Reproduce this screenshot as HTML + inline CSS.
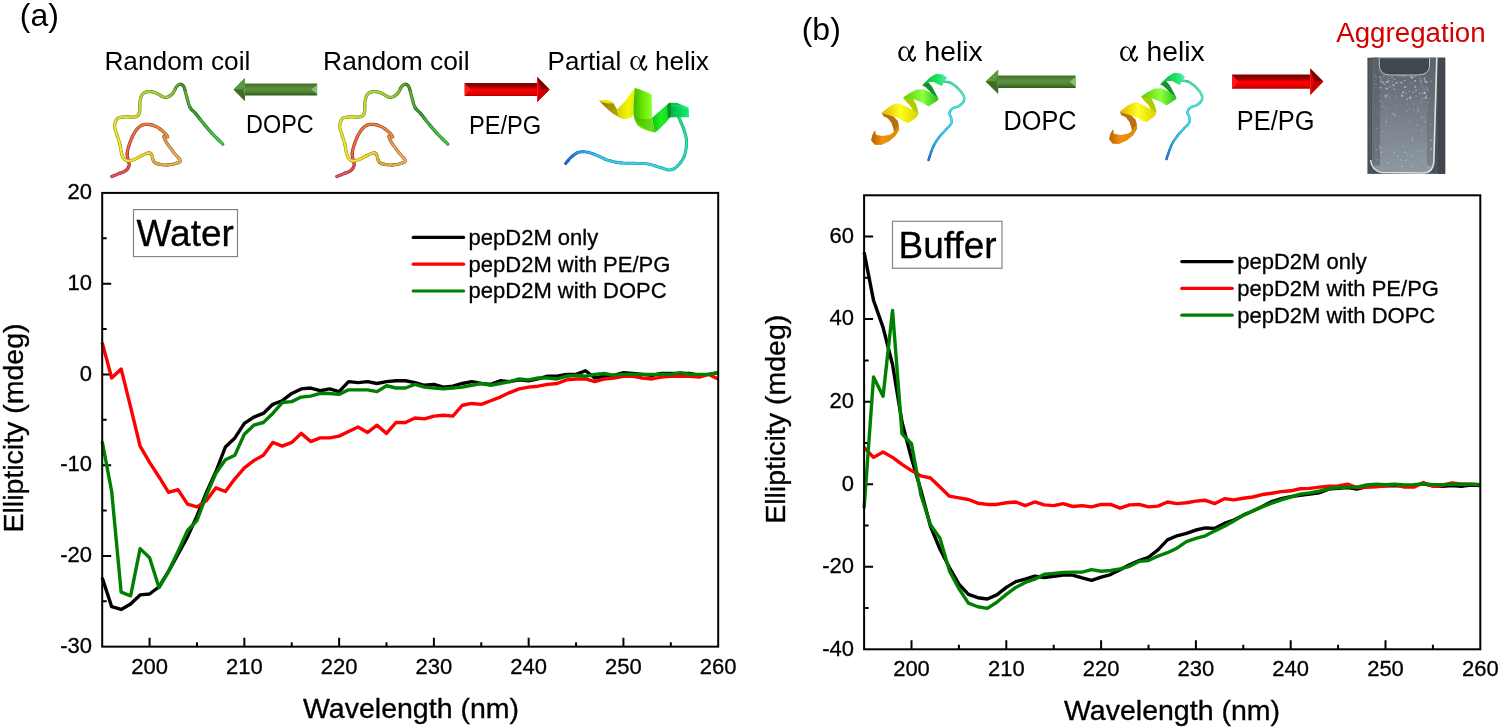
<!DOCTYPE html>
<html><head><meta charset="utf-8"><title>CD spectra pepD2M</title>
<style>
html,body{margin:0;padding:0;background:#fff;}
body{width:1500px;height:728px;overflow:hidden;position:relative;font-family:'Liberation Sans', sans-serif;}
svg{position:absolute;left:0;top:0;filter:blur(0.4px);}
</style></head><body>
<svg width="1500" height="728" viewBox="0 0 1500 728">
<rect width="1500" height="728" fill="#fff"/>
<!-- CHART A -->
<path d="M149.58,646.65V637.65M244.35,646.65V637.65M339.12,646.65V637.65M433.89,646.65V637.65M528.66,646.65V637.65M623.43,646.65V637.65M196.97,646.65V642.15M291.74,646.65V642.15M386.51,646.65V642.15M481.28,646.65V642.15M576.05,646.65V642.15M670.82,646.65V642.15M102.20,555.90H111.20M102.20,465.15H111.20M102.20,374.40H111.20M102.20,283.65H111.20M102.20,601.27H106.70M102.20,510.52H106.70M102.20,419.77H106.70M102.20,329.02H106.70M102.20,238.28H106.70" stroke="#000" stroke-width="2" fill="none"/>
<polyline points="102.20,577.68 111.68,606.72 121.15,609.44 130.63,604.00 140.11,594.92 149.58,594.01 159.06,586.75 168.54,571.33 178.02,554.08 187.49,536.84 196.97,515.97 206.45,492.38 215.92,471.50 225.40,447.00 234.88,437.92 244.35,423.40 253.83,417.05 263.31,413.42 272.78,404.35 282.26,400.72 291.74,393.46 301.22,388.92 310.69,388.01 320.17,390.74 329.65,388.92 339.12,391.64 348.60,381.66 358.08,382.57 367.55,381.66 377.03,383.48 386.51,381.66 395.98,380.75 405.46,380.75 414.94,382.57 424.42,385.29 433.89,384.38 443.37,387.11 452.85,386.20 462.32,383.48 471.80,381.66 481.28,383.48 490.75,384.38 500.23,380.75 509.71,381.66 519.18,379.85 528.66,380.75 538.14,378.94 547.62,376.21 557.09,376.21 566.57,374.40 576.05,374.40 585.52,370.77 595.00,378.03 604.48,376.21 613.95,375.31 623.43,372.59 632.91,373.49 642.38,374.40 651.86,375.31 661.34,373.49 670.82,373.49 680.29,373.49 689.77,373.49 699.25,375.31 708.72,374.40 718.20,372.59" fill="none" stroke="#000000" stroke-width="3.4" stroke-linejoin="round" stroke-linecap="butt"/>
<polyline points="102.20,342.64 111.68,378.03 121.15,368.95 130.63,407.07 140.11,446.09 149.58,462.43 159.06,476.95 168.54,492.38 178.02,489.65 187.49,504.17 196.97,506.89 206.45,500.54 215.92,487.84 225.40,491.47 234.88,478.76 244.35,467.87 253.83,460.61 263.31,455.17 272.78,442.46 282.26,446.09 291.74,442.46 301.22,433.39 310.69,441.55 320.17,437.92 329.65,437.92 339.12,436.11 348.60,431.57 358.08,427.03 367.55,432.48 377.03,425.22 386.51,433.39 395.98,422.50 405.46,422.50 414.94,417.96 424.42,418.87 433.89,416.14 443.37,415.24 452.85,416.14 462.32,405.25 471.80,403.44 481.28,404.35 490.75,400.72 500.23,397.09 509.71,392.55 519.18,388.92 528.66,387.11 538.14,386.20 547.62,384.38 557.09,383.48 566.57,379.85 576.05,378.94 585.52,378.94 595.00,381.66 604.48,378.94 613.95,378.03 623.43,376.21 632.91,376.21 642.38,378.03 651.86,378.94 661.34,377.12 670.82,376.21 680.29,376.21 689.77,376.21 699.25,377.12 708.72,374.40 718.20,378.94" fill="none" stroke="#ff0000" stroke-width="3.4" stroke-linejoin="round" stroke-linecap="butt"/>
<polyline points="102.20,441.55 111.68,491.47 121.15,592.20 130.63,595.83 140.11,548.64 149.58,557.72 159.06,587.66 168.54,571.33 178.02,551.36 187.49,530.49 196.97,520.51 206.45,495.10 215.92,473.32 225.40,459.70 234.88,455.17 244.35,434.29 253.83,425.22 263.31,422.50 272.78,413.42 282.26,402.53 291.74,401.62 301.22,397.09 310.69,396.18 320.17,393.46 329.65,393.46 339.12,394.37 348.60,389.83 358.08,389.83 367.55,389.83 377.03,391.64 386.51,385.74 395.98,388.01 405.46,388.01 414.94,384.38 424.42,387.11 433.89,388.01 443.37,388.92 452.85,388.01 462.32,387.11 471.80,385.29 481.28,383.48 490.75,385.29 500.23,383.48 509.71,381.66 519.18,378.94 528.66,379.85 538.14,378.03 547.62,378.03 557.09,378.94 566.57,376.21 576.05,375.31 585.52,376.21 595.00,374.40 604.48,373.49 613.95,375.31 623.43,374.40 632.91,374.40 642.38,374.40 651.86,374.40 661.34,374.40 670.82,374.40 680.29,372.59 689.77,374.40 699.25,374.40 708.72,374.40 718.20,372.59" fill="none" stroke="#008000" stroke-width="3.4" stroke-linejoin="round" stroke-linecap="butt"/>
<rect x="102.20" y="192.90" width="616.00" height="453.75" fill="none" stroke="#000" stroke-width="2"/>
<g font-family="'Liberation Sans', sans-serif" font-size="22" fill="#000" stroke="#000" stroke-width="0.3"><text x="149.58" y="674.30" text-anchor="middle">200</text><text x="244.35" y="674.30" text-anchor="middle">210</text><text x="339.12" y="674.30" text-anchor="middle">220</text><text x="433.89" y="674.30" text-anchor="middle">230</text><text x="528.66" y="674.30" text-anchor="middle">240</text><text x="623.43" y="674.30" text-anchor="middle">250</text><text x="718.20" y="674.30" text-anchor="middle">260</text><text x="92.00" y="652.95" text-anchor="end">-30</text><text x="92.00" y="562.20" text-anchor="end">-20</text><text x="92.00" y="471.45" text-anchor="end">-10</text><text x="92.00" y="380.70" text-anchor="end">0</text><text x="92.00" y="289.95" text-anchor="end">10</text><text x="92.00" y="199.20" text-anchor="end">20</text></g>
<rect x="133.5" y="209.6" width="104" height="47" fill="none" stroke="#858585" stroke-width="1.2"/>
<text x="136.5" y="246" font-family="'Liberation Sans', sans-serif" font-size="37" stroke="#000" stroke-width="0.3">Water</text>
<line x1="413.2" y1="237.4" x2="463.6" y2="237.4" stroke="#000000" stroke-width="3.2" stroke-linecap="round"/>
<text x="468.6" y="244.7" font-family="'Liberation Sans', sans-serif" font-size="22" stroke="#000" stroke-width="0.3">pepD2M only</text>
<line x1="413.2" y1="264.2" x2="463.6" y2="264.2" stroke="#ff0000" stroke-width="3.2" stroke-linecap="round"/>
<text x="468.6" y="271.5" font-family="'Liberation Sans', sans-serif" font-size="22" stroke="#000" stroke-width="0.3">pepD2M with PE/PG</text>
<line x1="413.2" y1="291.0" x2="463.6" y2="291.0" stroke="#008000" stroke-width="3.2" stroke-linecap="round"/>
<text x="468.6" y="298.3" font-family="'Liberation Sans', sans-serif" font-size="22" stroke="#000" stroke-width="0.3">pepD2M with DOPC</text>
<text x="411" y="718.2" font-family="'Liberation Sans', sans-serif" font-size="28.5" text-anchor="middle" stroke="#000" stroke-width="0.35">Wavelength (nm)</text>
<text transform="translate(22.7,428.0) rotate(-90)" font-family="'Liberation Sans', sans-serif" font-size="28.5" text-anchor="middle" stroke="#000" stroke-width="0.35">Ellipticity (mdeg)</text>
<!-- CHART B -->
<path d="M911.50,649.30V640.30M1006.30,649.30V640.30M1101.10,649.30V640.30M1195.90,649.30V640.30M1290.70,649.30V640.30M1385.50,649.30V640.30M958.90,649.30V644.80M1053.70,649.30V644.80M1148.50,649.30V644.80M1243.30,649.30V644.80M1338.10,649.30V644.80M1432.90,649.30V644.80M864.10,566.75H873.10M864.10,484.21H873.10M864.10,401.66H873.10M864.10,319.12H873.10M864.10,236.57H873.10M864.10,608.03H868.60M864.10,525.48H868.60M864.10,442.94H868.60M864.10,360.39H868.60M864.10,277.85H868.60" stroke="#000" stroke-width="2" fill="none"/>
<polyline points="864.10,252.26 873.58,300.55 883.06,327.37 892.54,364.52 902.02,422.30 911.50,458.21 920.98,490.40 930.46,526.31 939.94,549.01 949.42,567.58 958.90,584.09 968.38,594.41 977.86,597.71 987.34,598.95 996.82,594.82 1006.30,587.39 1015.78,581.61 1025.26,579.14 1034.74,576.25 1044.22,577.49 1053.70,576.25 1063.18,575.01 1072.66,575.01 1082.14,577.90 1091.62,580.37 1101.10,577.07 1110.58,574.60 1120.06,569.64 1129.54,564.69 1139.02,560.56 1148.50,557.26 1157.98,549.83 1167.46,539.93 1176.94,535.80 1186.42,533.32 1195.90,530.02 1205.38,527.96 1214.86,528.37 1224.34,523.42 1233.82,520.12 1243.30,515.16 1252.78,511.04 1262.26,506.50 1271.74,501.54 1281.22,498.65 1290.70,496.59 1300.18,495.35 1309.66,494.11 1319.14,492.88 1328.62,489.16 1338.10,488.34 1347.58,487.51 1357.06,489.16 1366.54,486.69 1376.02,486.27 1385.50,485.86 1394.98,485.45 1404.46,485.86 1413.94,485.45 1423.42,483.80 1432.90,485.86 1442.38,486.27 1451.86,485.45 1461.34,486.27 1470.82,485.03 1480.30,485.45" fill="none" stroke="#000000" stroke-width="3.4" stroke-linejoin="round" stroke-linecap="butt"/>
<polyline points="864.10,447.48 873.58,457.38 883.06,452.02 892.54,457.38 902.02,464.40 911.50,470.59 920.98,475.95 930.46,478.02 939.94,487.10 949.42,496.18 958.90,497.83 968.38,499.48 977.86,503.19 987.34,504.43 996.82,504.43 1006.30,502.78 1015.78,501.96 1025.26,505.67 1034.74,501.96 1044.22,504.85 1053.70,505.67 1063.18,503.61 1072.66,506.50 1082.14,505.67 1091.62,506.91 1101.10,504.43 1110.58,504.43 1120.06,508.15 1129.54,504.85 1139.02,504.43 1148.50,506.91 1157.98,506.08 1167.46,501.96 1176.94,503.61 1186.42,502.78 1195.90,501.13 1205.38,500.31 1214.86,503.61 1224.34,498.65 1233.82,499.89 1243.30,498.24 1252.78,497.00 1262.26,494.53 1271.74,493.29 1281.22,491.64 1290.70,490.81 1300.18,488.75 1309.66,488.34 1319.14,487.10 1328.62,486.27 1338.10,485.86 1347.58,484.21 1357.06,487.51 1366.54,487.10 1376.02,486.69 1385.50,485.86 1394.98,484.62 1404.46,487.10 1413.94,487.10 1423.42,482.56 1432.90,486.27 1442.38,485.45 1451.86,482.97 1461.34,484.21 1470.82,484.21 1480.30,484.62" fill="none" stroke="#ff0000" stroke-width="3.4" stroke-linejoin="round" stroke-linecap="butt"/>
<polyline points="864.10,508.15 873.58,376.90 883.06,396.30 892.54,310.45 902.02,433.86 911.50,443.76 920.98,495.35 930.46,524.66 939.94,538.28 949.42,570.88 958.90,588.63 968.38,603.07 977.86,606.79 987.34,608.44 996.82,602.25 1006.30,594.41 1015.78,587.39 1025.26,582.44 1034.74,579.14 1044.22,574.18 1053.70,573.36 1063.18,572.53 1072.66,572.12 1082.14,572.12 1091.62,569.64 1101.10,571.29 1110.58,570.47 1120.06,568.82 1129.54,566.34 1139.02,561.39 1148.50,560.56 1157.98,556.02 1167.46,552.72 1176.94,548.18 1186.42,541.58 1195.90,538.28 1205.38,535.80 1214.86,530.85 1224.34,526.31 1233.82,520.94 1243.30,515.16 1252.78,511.04 1262.26,506.91 1271.74,503.19 1281.22,499.89 1290.70,497.00 1300.18,494.11 1309.66,492.88 1319.14,491.23 1328.62,488.75 1338.10,487.51 1347.58,487.10 1357.06,487.10 1366.54,485.03 1376.02,484.21 1385.50,484.62 1394.98,484.21 1404.46,485.03 1413.94,484.62 1423.42,483.80 1432.90,484.62 1442.38,484.62 1451.86,484.21 1461.34,484.21 1470.82,484.21 1480.30,484.62" fill="none" stroke="#008000" stroke-width="3.4" stroke-linejoin="round" stroke-linecap="butt"/>
<rect x="864.10" y="195.30" width="616.20" height="454.00" fill="none" stroke="#000" stroke-width="2"/>
<g font-family="'Liberation Sans', sans-serif" font-size="22" fill="#000" stroke="#000" stroke-width="0.3"><text x="911.50" y="676.30" text-anchor="middle">200</text><text x="1006.30" y="676.30" text-anchor="middle">210</text><text x="1101.10" y="676.30" text-anchor="middle">220</text><text x="1195.90" y="676.30" text-anchor="middle">230</text><text x="1290.70" y="676.30" text-anchor="middle">240</text><text x="1385.50" y="676.30" text-anchor="middle">250</text><text x="1480.30" y="676.30" text-anchor="middle">260</text><text x="854.00" y="655.60" text-anchor="end">-40</text><text x="854.00" y="573.05" text-anchor="end">-20</text><text x="854.00" y="490.51" text-anchor="end">0</text><text x="854.00" y="407.96" text-anchor="end">20</text><text x="854.00" y="325.42" text-anchor="end">40</text><text x="854.00" y="242.87" text-anchor="end">60</text></g>
<rect x="892.5" y="221.3" width="109.5" height="47" fill="none" stroke="#858585" stroke-width="1.2"/>
<text x="898.5" y="257.6" font-family="'Liberation Sans', sans-serif" font-size="37" stroke="#000" stroke-width="0.3">Buffer</text>
<line x1="1181.8" y1="261.6" x2="1232.2" y2="261.6" stroke="#000000" stroke-width="3.2" stroke-linecap="round"/>
<text x="1237.2" y="268.9" font-family="'Liberation Sans', sans-serif" font-size="22" stroke="#000" stroke-width="0.3">pepD2M only</text>
<line x1="1181.8" y1="288.4" x2="1232.2" y2="288.4" stroke="#ff0000" stroke-width="3.2" stroke-linecap="round"/>
<text x="1237.2" y="295.7" font-family="'Liberation Sans', sans-serif" font-size="22" stroke="#000" stroke-width="0.3">pepD2M with PE/PG</text>
<line x1="1181.8" y1="315.2" x2="1232.2" y2="315.2" stroke="#008000" stroke-width="3.2" stroke-linecap="round"/>
<text x="1237.2" y="322.5" font-family="'Liberation Sans', sans-serif" font-size="22" stroke="#000" stroke-width="0.3">pepD2M with DOPC</text>
<text x="1172" y="719.8" font-family="'Liberation Sans', sans-serif" font-size="28.5" text-anchor="middle" stroke="#000" stroke-width="0.35">Wavelength (nm)</text>
<text transform="translate(785,419.3) rotate(-90)" font-family="'Liberation Sans', sans-serif" font-size="28.5" text-anchor="middle" stroke="#000" stroke-width="0.35">Ellipticity (mdeg)</text>
<!-- TOP -->
<defs>
<linearGradient id="gShaft" x1="0" y1="0" x2="0" y2="1">
 <stop offset="0" stop-color="#3f6d24"/><stop offset="0.18" stop-color="#4b7c2e"/>
 <stop offset="0.45" stop-color="#5a9140"/><stop offset="0.7" stop-color="#4f8435"/>
 <stop offset="0.88" stop-color="#3c6822"/><stop offset="1" stop-color="#335c1c"/>
</linearGradient>
<linearGradient id="rShaft" x1="0" y1="0" x2="0" y2="1">
 <stop offset="0" stop-color="#7a0000"/><stop offset="0.3" stop-color="#990000"/>
 <stop offset="0.5" stop-color="#ff0000"/><stop offset="0.72" stop-color="#f00000"/>
 <stop offset="0.9" stop-color="#cc0000"/><stop offset="1" stop-color="#b00000"/>
</linearGradient>
<linearGradient id="cuvIn" x1="0" y1="0" x2="0" y2="1">
 <stop offset="0" stop-color="#5c636b"/><stop offset="0.3" stop-color="#6c747d"/><stop offset="0.65" stop-color="#7f8891"/>
 <stop offset="1" stop-color="#8e98a1"/>
</linearGradient>
</defs>
<text transform="translate(19.80,25.70) scale(1.000,1)" font-family="'Liberation Sans', sans-serif" font-size="32" fill="#000">(a)</text>
<text transform="translate(801.70,40.10) scale(1.000,1)" font-family="'Liberation Sans', sans-serif" font-size="32" fill="#000">(b)</text>
<text transform="translate(104.40,70.10) scale(1.010,1)" font-family="'Liberation Sans', sans-serif" font-size="26" fill="#000">Random coil</text>
<text transform="translate(323.10,70.10) scale(1.014,1)" font-family="'Liberation Sans', sans-serif" font-size="26" fill="#000">Random coil</text>
<text transform="translate(547.60,70.00) scale(1.000,1)" font-family="'Liberation Sans', sans-serif" font-size="26" fill="#000">Partial</text>
<text transform="translate(655.00,70.00) scale(1.010,1)" font-family="'Liberation Sans', sans-serif" font-size="26" fill="#000">helix</text>
<text transform="translate(246.10,133.00) scale(0.901,1)" font-family="'Liberation Sans', sans-serif" font-size="26" fill="#000">DOPC</text>
<text transform="translate(468.90,134.40) scale(0.910,1)" font-family="'Liberation Sans', sans-serif" font-size="26" fill="#000">PE/PG</text>
<text transform="translate(924.60,60.80) scale(1.010,1)" font-family="'Liberation Sans', sans-serif" font-size="28" fill="#000">helix</text>
<text transform="translate(1146.60,60.80) scale(1.010,1)" font-family="'Liberation Sans', sans-serif" font-size="28" fill="#000">helix</text>
<text transform="translate(1003.60,130.10) scale(0.902,1)" font-family="'Liberation Sans', sans-serif" font-size="28" fill="#000">DOPC</text>
<text transform="translate(1236.80,129.50) scale(0.907,1)" font-family="'Liberation Sans', sans-serif" font-size="28" fill="#000">PE/PG</text>
<text transform="translate(1336.20,42.20) scale(0.990,1)" font-family="'Liberation Sans', sans-serif" font-size="28" fill="#d40000">Aggregation</text>
<defs><g id="alpha"><path fill-rule="evenodd" d="M5.9,0.3 A5.6,7.4 0 1 0 5.9,15.1 A5.6,7.4 0 1 0 5.9,0.3 Z M6.5,1.5 A3.8,6.2 0 1 1 6.5,13.9 A3.8,6.2 0 1 1 6.5,1.5 Z"/>
<path d="M14.9,1.1 L11.6,7.6 Q11.4,12.6 14.4,14.6 Q16,15.4 17.3,11.3" fill="none" stroke="#000" stroke-width="1.9" stroke-linecap="round"/>
<path d="M14.9,0.8 L12.6,6" fill="none" stroke="#000" stroke-width="2.6" stroke-linecap="round"/></g></defs>
<use href="#alpha" transform="translate(898,46)"/>
<use href="#alpha" transform="translate(1119.8,46)"/>
<use href="#alpha" transform="translate(630,55.6) scale(0.955,0.96)"/>
<polygon points="244.8,83.6 317.1,83.6 317.1,95.5 244.8,95.5" fill="url(#gShaft)"/>
<polygon points="233.6,89.4 244.8,78.1 244.8,101.0" fill="#4f8334"/>
<polygon points="233.6,89.4 244.8,78.1 244.8,83.6 241.8,89.4" fill="#5d9a40"/>
<polygon points="233.6,89.4 241.8,89.4 244.8,95.5 244.8,101.0" fill="#3e6b25"/>
<polygon points="311.1,89.55 317.1,85.1 317.1,94.0" fill="#8cc06c"/>
<polygon points="464.7,83.1 537.1,83.1 537.1,95.9 464.7,95.9" fill="url(#rShaft)"/>
<polygon points="537.1,76.8 549.6,89.4 537.1,102.0" fill="#e80000"/>
<polygon points="537.1,76.8 549.6,89.4 541.1,89.4" fill="#7a0000"/>
<polygon points="537.1,102.0 549.6,89.4 541.1,89.4" fill="#c80000"/>
<polygon points="464.7,83.1 470.7,89.5 464.7,95.9" fill="#ff1a1a"/>
<polygon points="998.1,75.4 1075.6,75.4 1075.6,88.0 998.1,88.0" fill="url(#gShaft)"/>
<polygon points="985.7,81.6 998.1,69.7 998.1,93.8" fill="#4f8334"/>
<polygon points="985.7,81.6 998.1,69.7 998.1,75.4 995.1,81.6" fill="#5d9a40"/>
<polygon points="985.7,81.6 995.1,81.6 998.1,88.0 998.1,93.8" fill="#3e6b25"/>
<polygon points="1069.6,81.7 1075.6,76.9 1075.6,86.5" fill="#8cc06c"/>
<polygon points="1232.1,74.5 1310.1,74.5 1310.1,88.8 1232.1,88.8" fill="url(#rShaft)"/>
<polygon points="1310.1,68.2 1323.3,81.6 1310.1,94.9" fill="#e80000"/>
<polygon points="1310.1,68.2 1323.3,81.6 1314.1,81.6" fill="#7a0000"/>
<polygon points="1310.1,94.9 1323.3,81.6 1314.1,81.6" fill="#c80000"/>
<polygon points="1232.1,74.5 1238.1,81.65 1232.1,88.8" fill="#ff1a1a"/>
<defs><g id="coil" fill="none" stroke-linecap="round" stroke-linejoin="round">
<path d="M80.0,690.0 L85.5,687.8 L93.1,684.8 L102.2,681.2 L111.9,677.4 L121.4,673.6 L130.0,670.0 L138.0,666.8" stroke="#942f38" stroke-width="22.0"/>
<path d="M138.0,666.8 L146.2,663.9 L154.2,660.9 L161.8,657.8 L168.8,654.2 L175.0,650.0 L180.5,645.2 L185.4,639.8" stroke="#942d34" stroke-width="22.0"/>
<path d="M185.4,639.8 L189.8,634.1 L193.4,628.0 L196.2,621.6 L198.0,615.0 L198.4,608.0 L197.5,600.6 L195.8,592.8 L193.6,585.0" stroke="#942a2f" stroke-width="22.0"/>
<path d="M193.6,585.0 L191.5,577.3 L190.0,570.0 L188.8,563.3 L187.4,557.0 L186.1,550.9 L185.1,544.6 L184.6,537.8 L185.0,530.0" stroke="#96302b" stroke-width="22.0"/>
<path d="M185.0,530.0 L186.2,521.3 L188.0,511.9 L190.3,501.9 L193.1,491.5 L196.4,480.8 L200.0,470.0" stroke="#983727" stroke-width="22.0"/>
<path d="M200.0,470.0 L204.0,458.7 L208.5,446.7 L213.4,434.4 L218.7,422.2" stroke="#993c24" stroke-width="22.0"/>
<path d="M218.7,422.2 L224.2,410.6 L230.0,400.0 L236.0,390.1 L242.2,380.6 L248.8,371.6" stroke="#9a4123" stroke-width="22.0"/>
<path d="M248.8,371.6 L255.6,363.3 L262.6,356.1 L270.0,350.0 L277.6,345.1 L285.6,341.3 L293.8,338.4" stroke="#9b4521" stroke-width="22.0"/>
<path d="M293.8,338.4 L302.2,336.5 L311.0,335.4 L320.0,335.0 L329.5,335.5 L339.6,337.0 L350.0,339.4" stroke="#9c4a20" stroke-width="22.0"/>
<path d="M350.0,339.4 L360.4,342.4 L370.5,346.0 L380.0,350.0 L389.1,354.7 L398.1,360.2 L406.9,366.2" stroke="#9b5022" stroke-width="22.0"/>
<path d="M406.9,366.2 L415.2,372.6 L422.9,378.9 L430.0,385.0 L436.8,391.3 L443.5,398.0" stroke="#9a5523" stroke-width="22.0"/>
<path d="M443.5,398.0 L449.7,404.8 L454.8,411.1 L458.4,416.3 L460.0,420.0 L458.6,421.4 L454.3,420.6 L448.4,418.9 L442.4,417.1 L437.5,416.5 L435.0,418.0" stroke="#995a25" stroke-width="22.0"/>
<path d="M80.0,690.0 L85.5,687.8 L93.1,684.8 L102.2,681.2 L111.9,677.4 L121.4,673.6 L130.0,670.0 L138.0,666.8" stroke="#e04855" stroke-width="14.0"/>
<path d="M138.0,666.8 L146.2,663.9 L154.2,660.9 L161.8,657.8 L168.8,654.2 L175.0,650.0 L180.5,645.2 L185.4,639.8" stroke="#e0444e" stroke-width="14.0"/>
<path d="M185.4,639.8 L189.8,634.1 L193.4,628.0 L196.2,621.6 L198.0,615.0 L198.4,608.0 L197.5,600.6 L195.8,592.8 L193.6,585.0" stroke="#e04048" stroke-width="14.0"/>
<path d="M193.6,585.0 L191.5,577.3 L190.0,570.0 L188.8,563.3 L187.4,557.0 L186.1,550.9 L185.1,544.6 L184.6,537.8 L185.0,530.0" stroke="#e34942" stroke-width="14.0"/>
<path d="M185.0,530.0 L186.2,521.3 L188.0,511.9 L190.3,501.9 L193.1,491.5 L196.4,480.8 L200.0,470.0" stroke="#e6533b" stroke-width="14.0"/>
<path d="M200.0,470.0 L204.0,458.7 L208.5,446.7 L213.4,434.4 L218.7,422.2" stroke="#e95b37" stroke-width="14.0"/>
<path d="M218.7,422.2 L224.2,410.6 L230.0,400.0 L236.0,390.1 L242.2,380.6 L248.8,371.6" stroke="#ea6235" stroke-width="14.0"/>
<path d="M248.8,371.6 L255.6,363.3 L262.6,356.1 L270.0,350.0 L277.6,345.1 L285.6,341.3 L293.8,338.4" stroke="#eb6932" stroke-width="14.0"/>
<path d="M293.8,338.4 L302.2,336.5 L311.0,335.4 L320.0,335.0 L329.5,335.5 L339.6,337.0 L350.0,339.4" stroke="#ec7030" stroke-width="14.0"/>
<path d="M350.0,339.4 L360.4,342.4 L370.5,346.0 L380.0,350.0 L389.1,354.7 L398.1,360.2 L406.9,366.2" stroke="#eb7933" stroke-width="14.0"/>
<path d="M406.9,366.2 L415.2,372.6 L422.9,378.9 L430.0,385.0 L436.8,391.3 L443.5,398.0" stroke="#e98136" stroke-width="14.0"/>
<path d="M443.5,398.0 L449.7,404.8 L454.8,411.1 L458.4,416.3 L460.0,420.0 L458.6,421.4 L454.3,420.6 L448.4,418.9 L442.4,417.1 L437.5,416.5 L435.0,418.0" stroke="#e88838" stroke-width="14.0"/>
<path d="M80.0,690.0 L85.5,687.8 L93.1,684.8 L102.2,681.2 L111.9,677.4 L121.4,673.6 L130.0,670.0 L138.0,666.8" stroke="#e7707a" stroke-width="5.0"/>
<path d="M138.0,666.8 L146.2,663.9 L154.2,660.9 L161.8,657.8 L168.8,654.2 L175.0,650.0 L180.5,645.2 L185.4,639.8" stroke="#e76d75" stroke-width="5.0"/>
<path d="M185.4,639.8 L189.8,634.1 L193.4,628.0 L196.2,621.6 L198.0,615.0 L198.4,608.0 L197.5,600.6 L195.8,592.8 L193.6,585.0" stroke="#e76a70" stroke-width="5.0"/>
<path d="M193.6,585.0 L191.5,577.3 L190.0,570.0 L188.8,563.3 L187.4,557.0 L186.1,550.9 L185.1,544.6 L184.6,537.8 L185.0,530.0" stroke="#e9716b" stroke-width="5.0"/>
<path d="M185.0,530.0 L186.2,521.3 L188.0,511.9 L190.3,501.9 L193.1,491.5 L196.4,480.8 L200.0,470.0" stroke="#ec7966" stroke-width="5.0"/>
<path d="M200.0,470.0 L204.0,458.7 L208.5,446.7 L213.4,434.4 L218.7,422.2" stroke="#ed7f63" stroke-width="5.0"/>
<path d="M218.7,422.2 L224.2,410.6 L230.0,400.0 L236.0,390.1 L242.2,380.6 L248.8,371.6" stroke="#ee8561" stroke-width="5.0"/>
<path d="M248.8,371.6 L255.6,363.3 L262.6,356.1 L270.0,350.0 L277.6,345.1 L285.6,341.3 L293.8,338.4" stroke="#ef8a5f" stroke-width="5.0"/>
<path d="M293.8,338.4 L302.2,336.5 L311.0,335.4 L320.0,335.0 L329.5,335.5 L339.6,337.0 L350.0,339.4" stroke="#f0905e" stroke-width="5.0"/>
<path d="M350.0,339.4 L360.4,342.4 L370.5,346.0 L380.0,350.0 L389.1,354.7 L398.1,360.2 L406.9,366.2" stroke="#ef9660" stroke-width="5.0"/>
<path d="M406.9,366.2 L415.2,372.6 L422.9,378.9 L430.0,385.0 L436.8,391.3 L443.5,398.0" stroke="#ee9c62" stroke-width="5.0"/>
<path d="M443.5,398.0 L449.7,404.8 L454.8,411.1 L458.4,416.3 L460.0,420.0 L458.6,421.4 L454.3,420.6 L448.4,418.9 L442.4,417.1 L437.5,416.5 L435.0,418.0" stroke="#eda264" stroke-width="5.0"/>
<path d="M435.0,418.0 L434.8,421.5 L435.7,426.2 L437.8,432.0 L440.9,438.8 L445.0,446.5 L450.0,455.0 L456.4,464.9 L464.3,476.4" stroke="#935f30" stroke-width="22.0"/>
<path d="M464.3,476.4 L473.1,488.9 L482.4,501.6 L491.6,513.8 L500.0,525.0" stroke="#9a6736" stroke-width="22.0"/>
<path d="M500.0,525.0 L508.6,535.4 L518.0,545.7 L527.2,555.6 L535.4,564.8" stroke="#9b6a38" stroke-width="22.0"/>
<path d="M535.4,564.8 L541.6,573.0 L545.0,580.0 L545.4,585.5 L543.5,589.6 L539.7,592.7 L534.3,595.2 L527.6,597.5 L520.0,600.0" stroke="#9b6d39" stroke-width="22.0"/>
<path d="M520.0,600.0 L510.9,602.7 L500.0,605.5 L487.8,608.0 L475.0,610.1 L462.2,611.5" stroke="#9a6e34" stroke-width="22.0"/>
<path d="M462.2,611.5 L450.0,612.0 L437.8,611.5 L424.8,610.3 L411.9,608.3 L399.6,605.9" stroke="#956c26" stroke-width="22.0"/>
<path d="M399.6,605.9 L388.8,603.0 L380.0,600.0 L373.7,596.7 L369.3,593.0 L366.2,588.9 L364.1,584.6 L362.2,579.9" stroke="#926b1a" stroke-width="22.0"/>
<path d="M362.2,579.9 L360.0,575.0 L357.9,569.5 L356.3,563.1 L355.0,556.6 L353.7,550.2 L352.1,544.5 L350.0,540.0 L347.5,536.6 L344.8,533.9 L341.9,531.9 L338.5,530.6" stroke="#967d17" stroke-width="22.0"/>
<path d="M338.5,530.6 L334.6,529.9 L330.0,530.0 L324.7,530.9 L318.9,532.6 L312.5,535.0 L305.6,538.0 L298.1,541.3 L290.0,545.0 L281.0,549.4" stroke="#998b15" stroke-width="22.0"/>
<path d="M281.0,549.4 L271.1,554.7 L260.6,560.5 L250.0,566.1 L239.7,571.2 L230.0,575.0" stroke="#9a9015" stroke-width="22.0"/>
<path d="M230.0,575.0 L220.9,578.0 L211.9,580.7 L203.1,582.7 L194.8,583.8 L187.1,583.6 L180.0,582.0" stroke="#9b9415" stroke-width="22.0"/>
<path d="M180.0,582.0 L173.7,578.8 L168.0,574.3 L162.8,568.6 L158.1,561.8 L153.9,553.9 L150.0,545.0 L146.7,534.8" stroke="#9b9615" stroke-width="22.0"/>
<path d="M146.7,534.8 L144.3,523.0 L142.2,510.2 L140.2,496.8 L137.9,483.2 L135.0,470.0" stroke="#9a9615" stroke-width="22.0"/>
<path d="M135.0,470.0 L131.2,456.6 L126.9,442.6 L122.2,428.4 L117.6,414.6" stroke="#999515" stroke-width="22.0"/>
<path d="M117.6,414.6 L113.4,401.7 L110.0,390.0 L107.1,379.9 L104.4,370.9" stroke="#989415" stroke-width="22.0"/>
<path d="M104.4,370.9 L102.2,362.8 L100.6,355.2 L99.8,347.7 L100.0,340.0 L101.2,331.8 L103.3,323.3 L106.2,315.0" stroke="#979415" stroke-width="22.0"/>
<path d="M106.2,315.0 L110.0,307.2 L114.6,300.4 L120.0,295.0 L126.4,291.2 L133.7,288.7 L141.9,287.2 L150.7,286.3" stroke="#919217" stroke-width="22.0"/>
<path d="M150.7,286.3 L160.2,285.7 L170.0,285.0 L181.0,284.8 L193.4,285.4 L206.4,286.2" stroke="#8b9019" stroke-width="22.0"/>
<path d="M206.4,286.2 L219.0,286.9 L230.5,286.6 L240.0,285.0 L247.4,282.3 L253.3,278.9 L258.1,274.7 L262.0,269.4" stroke="#848f1a" stroke-width="22.0"/>
<path d="M262.0,269.4 L265.2,263.0 L268.0,255.0 L269.9,244.8 L270.6,232.4 L270.6,218.8 L270.5,204.8" stroke="#7e8d1c" stroke-width="22.0"/>
<path d="M270.5,204.8 L270.8,191.6 L272.0,180.0 L273.9,169.8 L276.1,160.3" stroke="#798b1e" stroke-width="22.0"/>
<path d="M276.1,160.3 L278.8,151.4 L281.9,143.3 L285.6,136.1 L290.0,130.0 L295.3,125.0 L301.3,120.9 L308.0,117.8 L315.1,115.5" stroke="#748920" stroke-width="22.0"/>
<path d="M315.1,115.5 L322.5,113.9 L330.0,113.0 L337.6,112.8 L345.6,113.3 L353.8,114.6 L362.2,116.5 L371.0,119.0" stroke="#6f8720" stroke-width="22.0"/>
<path d="M371.0,119.0 L380.0,122.0 L389.5,126.4 L399.6,132.4 L410.0,138.9 L420.4,145.1" stroke="#698620" stroke-width="22.0"/>
<path d="M420.4,145.1 L430.5,149.8 L440.0,152.0 L449.1,151.7 L458.1,149.6 L466.9,146.0 L475.2,141.3" stroke="#62831f" stroke-width="22.0"/>
<path d="M475.2,141.3 L482.9,135.9 L490.0,130.0 L496.2,122.9 L501.7,114.2 L506.6,104.7 L511.1,95.3" stroke="#557b1d" stroke-width="22.0"/>
<path d="M511.1,95.3 L515.5,86.7 L520.0,80.0 L524.5,74.9 L528.7,70.6 L532.8,67.3 L536.9,64.9 L540.9,63.5 L545.0,63.0" stroke="#426c19" stroke-width="22.0"/>
<path d="M545.0,63.0 L549.2,63.3 L553.5,64.2 L557.8,66.1 L562.0,69.1 L566.1,73.7 L570.0,80.0 L573.6,88.6 L577.0,99.4 L580.2,111.7" stroke="#2c5c17" stroke-width="22.0"/>
<path d="M580.2,111.7 L583.4,124.7 L586.6,137.7 L590.0,150.0 L593.4,162.0" stroke="#38701e" stroke-width="22.0"/>
<path d="M593.4,162.0 L596.6,174.4 L599.9,186.8 L603.4,198.7 L607.4,210.0 L612.0,220.0" stroke="#316c1d" stroke-width="22.0"/>
<path d="M612.0,220.0 L617.3,228.4 L623.0,235.3 L629.2,241.4 L635.9,247.5 L642.8,254.1 L650.0,262.0" stroke="#246118" stroke-width="22.0"/>
<path d="M650.0,262.0 L657.5,271.2 L665.4,281.2 L673.6,291.8 L682.1,302.7" stroke="#206319" stroke-width="22.0"/>
<path d="M682.1,302.7 L690.9,313.9 L700.0,325.0 L709.2,336.2 L718.7,347.6" stroke="#227420" stroke-width="22.0"/>
<path d="M718.7,347.6 L728.4,359.2 L738.5,371.0 L749.0,383.0 L760.0,395.0" stroke="#257923" stroke-width="22.0"/>
<path d="M760.0,395.0 L772.5,408.1 L786.7,422.4 L801.2,436.9" stroke="#277e26" stroke-width="22.0"/>
<path d="M801.2,436.9 L815.0,450.4 L826.7,461.8 L835.0,470.0" stroke="#298229" stroke-width="22.0"/>
<path d="M435.0,418.0 L434.8,421.5 L435.7,426.2 L437.8,432.0 L440.9,438.8 L445.0,446.5 L450.0,455.0 L456.4,464.9 L464.3,476.4" stroke="#df8f49" stroke-width="14.0"/>
<path d="M464.3,476.4 L473.1,488.9 L482.4,501.6 L491.6,513.8 L500.0,525.0" stroke="#e99d52" stroke-width="14.0"/>
<path d="M500.0,525.0 L508.6,535.4 L518.0,545.7 L527.2,555.6 L535.4,564.8" stroke="#eaa155" stroke-width="14.0"/>
<path d="M535.4,564.8 L541.6,573.0 L545.0,580.0 L545.4,585.5 L543.5,589.6 L539.7,592.7 L534.3,595.2 L527.6,597.5 L520.0,600.0" stroke="#eba657" stroke-width="14.0"/>
<path d="M520.0,600.0 L510.9,602.7 L500.0,605.5 L487.8,608.0 L475.0,610.1 L462.2,611.5" stroke="#e9a64e" stroke-width="14.0"/>
<path d="M462.2,611.5 L450.0,612.0 L437.8,611.5 L424.8,610.3 L411.9,608.3 L399.6,605.9" stroke="#e2a33a" stroke-width="14.0"/>
<path d="M399.6,605.9 L388.8,603.0 L380.0,600.0 L373.7,596.7 L369.3,593.0 L366.2,588.9 L364.1,584.6 L362.2,579.9" stroke="#dca228" stroke-width="14.0"/>
<path d="M362.2,579.9 L360.0,575.0 L357.9,569.5 L356.3,563.1 L355.0,556.6 L353.7,550.2 L352.1,544.5 L350.0,540.0 L347.5,536.6 L344.8,533.9 L341.9,531.9 L338.5,530.6" stroke="#e3bd23" stroke-width="14.0"/>
<path d="M338.5,530.6 L334.6,529.9 L330.0,530.0 L324.7,530.9 L318.9,532.6 L312.5,535.0 L305.6,538.0 L298.1,541.3 L290.0,545.0 L281.0,549.4" stroke="#e9d320" stroke-width="14.0"/>
<path d="M281.0,549.4 L271.1,554.7 L260.6,560.5 L250.0,566.1 L239.7,571.2 L230.0,575.0" stroke="#eada20" stroke-width="14.0"/>
<path d="M230.0,575.0 L220.9,578.0 L211.9,580.7 L203.1,582.7 L194.8,583.8 L187.1,583.6 L180.0,582.0" stroke="#ebe120" stroke-width="14.0"/>
<path d="M180.0,582.0 L173.7,578.8 L168.0,574.3 L162.8,568.6 L158.1,561.8 L153.9,553.9 L150.0,545.0 L146.7,534.8" stroke="#ebe420" stroke-width="14.0"/>
<path d="M146.7,534.8 L144.3,523.0 L142.2,510.2 L140.2,496.8 L137.9,483.2 L135.0,470.0" stroke="#e9e320" stroke-width="14.0"/>
<path d="M135.0,470.0 L131.2,456.6 L126.9,442.6 L122.2,428.4 L117.6,414.6" stroke="#e7e220" stroke-width="14.0"/>
<path d="M117.6,414.6 L113.4,401.7 L110.0,390.0 L107.1,379.9 L104.4,370.9" stroke="#e6e120" stroke-width="14.0"/>
<path d="M104.4,370.9 L102.2,362.8 L100.6,355.2 L99.8,347.7 L100.0,340.0 L101.2,331.8 L103.3,323.3 L106.2,315.0" stroke="#e4e020" stroke-width="14.0"/>
<path d="M106.2,315.0 L110.0,307.2 L114.6,300.4 L120.0,295.0 L126.4,291.2 L133.7,288.7 L141.9,287.2 L150.7,286.3" stroke="#dbdd23" stroke-width="14.0"/>
<path d="M150.7,286.3 L160.2,285.7 L170.0,285.0 L181.0,284.8 L193.4,285.4 L206.4,286.2" stroke="#d2db25" stroke-width="14.0"/>
<path d="M206.4,286.2 L219.0,286.9 L230.5,286.6 L240.0,285.0 L247.4,282.3 L253.3,278.9 L258.1,274.7 L262.0,269.4" stroke="#c9d828" stroke-width="14.0"/>
<path d="M262.0,269.4 L265.2,263.0 L268.0,255.0 L269.9,244.8 L270.6,232.4 L270.6,218.8 L270.5,204.8" stroke="#c0d52b" stroke-width="14.0"/>
<path d="M270.5,204.8 L270.8,191.6 L272.0,180.0 L273.9,169.8 L276.1,160.3" stroke="#b8d32d" stroke-width="14.0"/>
<path d="M276.1,160.3 L278.8,151.4 L281.9,143.3 L285.6,136.1 L290.0,130.0 L295.3,125.0 L301.3,120.9 L308.0,117.8 L315.1,115.5" stroke="#b0d030" stroke-width="14.0"/>
<path d="M315.1,115.5 L322.5,113.9 L330.0,113.0 L337.6,112.8 L345.6,113.3 L353.8,114.6 L362.2,116.5 L371.0,119.0" stroke="#a8cd30" stroke-width="14.0"/>
<path d="M371.0,119.0 L380.0,122.0 L389.5,126.4 L399.6,132.4 L410.0,138.9 L420.4,145.1" stroke="#9fca30" stroke-width="14.0"/>
<path d="M420.4,145.1 L430.5,149.8 L440.0,152.0 L449.1,151.7 L458.1,149.6 L466.9,146.0 L475.2,141.3" stroke="#95c62f" stroke-width="14.0"/>
<path d="M475.2,141.3 L482.9,135.9 L490.0,130.0 L496.2,122.9 L501.7,114.2 L506.6,104.7 L511.1,95.3" stroke="#81ba2b" stroke-width="14.0"/>
<path d="M511.1,95.3 L515.5,86.7 L520.0,80.0 L524.5,74.9 L528.7,70.6 L532.8,67.3 L536.9,64.9 L540.9,63.5 L545.0,63.0" stroke="#64a425" stroke-width="14.0"/>
<path d="M545.0,63.0 L549.2,63.3 L553.5,64.2 L557.8,66.1 L562.0,69.1 L566.1,73.7 L570.0,80.0 L573.6,88.6 L577.0,99.4 L580.2,111.7" stroke="#438b22" stroke-width="14.0"/>
<path d="M580.2,111.7 L583.4,124.7 L586.6,137.7 L590.0,150.0 L593.4,162.0" stroke="#54a92d" stroke-width="14.0"/>
<path d="M593.4,162.0 L596.6,174.4 L599.9,186.8 L603.4,198.7 L607.4,210.0 L612.0,220.0" stroke="#4aa32b" stroke-width="14.0"/>
<path d="M612.0,220.0 L617.3,228.4 L623.0,235.3 L629.2,241.4 L635.9,247.5 L642.8,254.1 L650.0,262.0" stroke="#379225" stroke-width="14.0"/>
<path d="M650.0,262.0 L657.5,271.2 L665.4,281.2 L673.6,291.8 L682.1,302.7" stroke="#309627" stroke-width="14.0"/>
<path d="M682.1,302.7 L690.9,313.9 L700.0,325.0 L709.2,336.2 L718.7,347.6" stroke="#34b030" stroke-width="14.0"/>
<path d="M718.7,347.6 L728.4,359.2 L738.5,371.0 L749.0,383.0 L760.0,395.0" stroke="#38b735" stroke-width="14.0"/>
<path d="M760.0,395.0 L772.5,408.1 L786.7,422.4 L801.2,436.9" stroke="#3bbf3a" stroke-width="14.0"/>
<path d="M801.2,436.9 L815.0,450.4 L826.7,461.8 L835.0,470.0" stroke="#3fc53e" stroke-width="14.0"/>
<path d="M435.0,418.0 L434.8,421.5 L435.7,426.2 L437.8,432.0 L440.9,438.8 L445.0,446.5 L450.0,455.0 L456.4,464.9 L464.3,476.4" stroke="#e6a871" stroke-width="5.0"/>
<path d="M464.3,476.4 L473.1,488.9 L482.4,501.6 L491.6,513.8 L500.0,525.0" stroke="#eeb278" stroke-width="5.0"/>
<path d="M500.0,525.0 L508.6,535.4 L518.0,545.7 L527.2,555.6 L535.4,564.8" stroke="#efb67a" stroke-width="5.0"/>
<path d="M535.4,564.8 L541.6,573.0 L545.0,580.0 L545.4,585.5 L543.5,589.6 L539.7,592.7 L534.3,595.2 L527.6,597.5 L520.0,600.0" stroke="#f0b97c" stroke-width="5.0"/>
<path d="M520.0,600.0 L510.9,602.7 L500.0,605.5 L487.8,608.0 L475.0,610.1 L462.2,611.5" stroke="#eeba75" stroke-width="5.0"/>
<path d="M462.2,611.5 L450.0,612.0 L437.8,611.5 L424.8,610.3 L411.9,608.3 L399.6,605.9" stroke="#e8b765" stroke-width="5.0"/>
<path d="M399.6,605.9 L388.8,603.0 L380.0,600.0 L373.7,596.7 L369.3,593.0 L366.2,588.9 L364.1,584.6 L362.2,579.9" stroke="#e4b657" stroke-width="5.0"/>
<path d="M362.2,579.9 L360.0,575.0 L357.9,569.5 L356.3,563.1 L355.0,556.6 L353.7,550.2 L352.1,544.5 L350.0,540.0 L347.5,536.6 L344.8,533.9 L341.9,531.9 L338.5,530.6" stroke="#e9cb54" stroke-width="5.0"/>
<path d="M338.5,530.6 L334.6,529.9 L330.0,530.0 L324.7,530.9 L318.9,532.6 L312.5,535.0 L305.6,538.0 L298.1,541.3 L290.0,545.0 L281.0,549.4" stroke="#eddc51" stroke-width="5.0"/>
<path d="M281.0,549.4 L271.1,554.7 L260.6,560.5 L250.0,566.1 L239.7,571.2 L230.0,575.0" stroke="#efe251" stroke-width="5.0"/>
<path d="M230.0,575.0 L220.9,578.0 L211.9,580.7 L203.1,582.7 L194.8,583.8 L187.1,583.6 L180.0,582.0" stroke="#f0e751" stroke-width="5.0"/>
<path d="M180.0,582.0 L173.7,578.8 L168.0,574.3 L162.8,568.6 L158.1,561.8 L153.9,553.9 L150.0,545.0 L146.7,534.8" stroke="#efea51" stroke-width="5.0"/>
<path d="M146.7,534.8 L144.3,523.0 L142.2,510.2 L140.2,496.8 L137.9,483.2 L135.0,470.0" stroke="#eee951" stroke-width="5.0"/>
<path d="M135.0,470.0 L131.2,456.6 L126.9,442.6 L122.2,428.4 L117.6,414.6" stroke="#ece851" stroke-width="5.0"/>
<path d="M117.6,414.6 L113.4,401.7 L110.0,390.0 L107.1,379.9 L104.4,370.9" stroke="#ebe751" stroke-width="5.0"/>
<path d="M104.4,370.9 L102.2,362.8 L100.6,355.2 L99.8,347.7 L100.0,340.0 L101.2,331.8 L103.3,323.3 L106.2,315.0" stroke="#eae751" stroke-width="5.0"/>
<path d="M106.2,315.0 L110.0,307.2 L114.6,300.4 L120.0,295.0 L126.4,291.2 L133.7,288.7 L141.9,287.2 L150.7,286.3" stroke="#e3e553" stroke-width="5.0"/>
<path d="M150.7,286.3 L160.2,285.7 L170.0,285.0 L181.0,284.8 L193.4,285.4 L206.4,286.2" stroke="#dce355" stroke-width="5.0"/>
<path d="M206.4,286.2 L219.0,286.9 L230.5,286.6 L240.0,285.0 L247.4,282.3 L253.3,278.9 L258.1,274.7 L262.0,269.4" stroke="#d4e157" stroke-width="5.0"/>
<path d="M262.0,269.4 L265.2,263.0 L268.0,255.0 L269.9,244.8 L270.6,232.4 L270.6,218.8 L270.5,204.8" stroke="#cede59" stroke-width="5.0"/>
<path d="M270.5,204.8 L270.8,191.6 L272.0,180.0 L273.9,169.8 L276.1,160.3" stroke="#c7dc5c" stroke-width="5.0"/>
<path d="M276.1,160.3 L278.8,151.4 L281.9,143.3 L285.6,136.1 L290.0,130.0 L295.3,125.0 L301.3,120.9 L308.0,117.8 L315.1,115.5" stroke="#c2da5d" stroke-width="5.0"/>
<path d="M315.1,115.5 L322.5,113.9 L330.0,113.0 L337.6,112.8 L345.6,113.3 L353.8,114.6 L362.2,116.5 L371.0,119.0" stroke="#bbd85e" stroke-width="5.0"/>
<path d="M371.0,119.0 L380.0,122.0 L389.5,126.4 L399.6,132.4 L410.0,138.9 L420.4,145.1" stroke="#b4d65e" stroke-width="5.0"/>
<path d="M420.4,145.1 L430.5,149.8 L440.0,152.0 L449.1,151.7 L458.1,149.6 L466.9,146.0 L475.2,141.3" stroke="#acd35d" stroke-width="5.0"/>
<path d="M475.2,141.3 L482.9,135.9 L490.0,130.0 L496.2,122.9 L501.7,114.2 L506.6,104.7 L511.1,95.3" stroke="#9cc95a" stroke-width="5.0"/>
<path d="M511.1,95.3 L515.5,86.7 L520.0,80.0 L524.5,74.9 L528.7,70.6 L532.8,67.3 L536.9,64.9 L540.9,63.5 L545.0,63.0" stroke="#86b855" stroke-width="5.0"/>
<path d="M545.0,63.0 L549.2,63.3 L553.5,64.2 L557.8,66.1 L562.0,69.1 L566.1,73.7 L570.0,80.0 L573.6,88.6 L577.0,99.4 L580.2,111.7" stroke="#6da453" stroke-width="5.0"/>
<path d="M580.2,111.7 L583.4,124.7 L586.6,137.7 L590.0,150.0 L593.4,162.0" stroke="#7abc5c" stroke-width="5.0"/>
<path d="M593.4,162.0 L596.6,174.4 L599.9,186.8 L603.4,198.7 L607.4,210.0 L612.0,220.0" stroke="#72b85a" stroke-width="5.0"/>
<path d="M612.0,220.0 L617.3,228.4 L623.0,235.3 L629.2,241.4 L635.9,247.5 L642.8,254.1 L650.0,262.0" stroke="#63aa55" stroke-width="5.0"/>
<path d="M650.0,262.0 L657.5,271.2 L665.4,281.2 L673.6,291.8 L682.1,302.7" stroke="#5dad56" stroke-width="5.0"/>
<path d="M682.1,302.7 L690.9,313.9 L700.0,325.0 L709.2,336.2 L718.7,347.6" stroke="#61c15e" stroke-width="5.0"/>
<path d="M718.7,347.6 L728.4,359.2 L738.5,371.0 L749.0,383.0 L760.0,395.0" stroke="#64c761" stroke-width="5.0"/>
<path d="M760.0,395.0 L772.5,408.1 L786.7,422.4 L801.2,436.9" stroke="#66cd65" stroke-width="5.0"/>
<path d="M801.2,436.9 L815.0,450.4 L826.7,461.8 L835.0,470.0" stroke="#69d269" stroke-width="5.0"/>
</g>
<linearGradient id="hy1" x1="0" y1="0" x2="1" y2="0"><stop offset="0" stop-color="#d8d000"/><stop offset="0.6" stop-color="#f4f400"/><stop offset="1" stop-color="#e0f000"/></linearGradient>
<linearGradient id="hy0" x1="0" y1="0" x2="1" y2="1"><stop offset="0" stop-color="#8a7a00"/><stop offset="1" stop-color="#c8b800"/></linearGradient>
<linearGradient id="hg1" x1="0" y1="0" x2="1" y2="0"><stop offset="0" stop-color="#40b800"/><stop offset="0.45" stop-color="#6ae800"/><stop offset="0.85" stop-color="#8cff30"/><stop offset="1" stop-color="#60d800"/></linearGradient>
<linearGradient id="hg2" x1="0" y1="0" x2="1" y2="0"><stop offset="0" stop-color="#10c010"/><stop offset="0.5" stop-color="#20f020"/><stop offset="1" stop-color="#10d030"/></linearGradient>
<linearGradient id="hbox" x1="0" y1="0" x2="1" y2="0"><stop offset="0" stop-color="#00b040"/><stop offset="1" stop-color="#10f070"/></linearGradient>
<linearGradient id="bo" x1="0" y1="0" x2="1" y2="0"><stop offset="0" stop-color="#b86000"/><stop offset="0.4" stop-color="#f09010"/><stop offset="1" stop-color="#e08a00"/></linearGradient>
<linearGradient id="by" x1="0" y1="0" x2="1" y2="0"><stop offset="0" stop-color="#e0b000"/><stop offset="0.5" stop-color="#ffff20"/><stop offset="1" stop-color="#d8d000"/></linearGradient>
<linearGradient id="bg" x1="0" y1="0" x2="1" y2="0"><stop offset="0" stop-color="#50d000"/><stop offset="0.55" stop-color="#90ff40"/><stop offset="1" stop-color="#20c020"/></linearGradient>
<linearGradient id="bt" x1="0" y1="0" x2="1" y2="0"><stop offset="0" stop-color="#10b840"/><stop offset="0.6" stop-color="#20e060"/><stop offset="1" stop-color="#50f0a8"/></linearGradient>
<g id="ahelix"><g fill="none" stroke-linecap="round" stroke-linejoin="round">
<path d="M944.2,81.7 L945.0,81.8 L946.0,81.9 L947.3,82.0 L948.6,82.2 L950.0,82.6" stroke="#28ae78" stroke-width="2.4"/>
<path d="M950.0,82.6 L951.3,83.1 L952.6,83.9 L954.0,84.9" stroke="#2bb081" stroke-width="2.4"/>
<path d="M954.0,84.9 L955.4,86.0 L956.8,87.2 L958.1,88.5" stroke="#2db289" stroke-width="2.4"/>
<path d="M958.1,88.5 L959.2,89.6 L960.2,90.7 L961.1,91.8 L961.9,92.9" stroke="#30b492" stroke-width="2.4"/>
<path d="M961.9,92.9 L962.7,94.0 L963.2,95.1 L963.7,96.1 L964.0,97.0" stroke="#33b69b" stroke-width="2.4"/>
<path d="M964.0,97.0 L964.2,98.0 L964.3,98.8 L964.2,99.7 L964.0,100.5 L963.7,101.3 L963.2,102.1" stroke="#32b5a1" stroke-width="2.4"/>
<path d="M963.2,102.1 L962.6,103.0 L961.9,103.8 L961.0,104.5 L960.1,105.3 L959.2,105.9" stroke="#30b3a8" stroke-width="2.4"/>
<path d="M959.2,105.9 L958.2,106.4 L957.0,106.8 L955.8,107.2 L954.6,107.6" stroke="#2eb2ae" stroke-width="2.4"/>
<path d="M954.6,107.6 L953.5,108.0 L952.6,108.5 L951.8,109.1 L951.1,109.9 L950.5,110.6" stroke="#2db0b3" stroke-width="2.4"/>
<path d="M950.5,110.6 L950.0,111.4 L949.6,112.3 L949.4,113.1 L949.4,113.9 L949.7,114.8 L950.1,115.7" stroke="#2baeb5" stroke-width="2.4"/>
<path d="M950.1,115.7 L950.6,116.5 L951.0,117.4 L951.3,118.3 L951.5,119.2 L951.6,120.0 L951.7,120.9" stroke="#28acb8" stroke-width="2.4"/>
<path d="M951.7,120.9 L951.8,121.7 L951.6,122.6 L951.3,123.5 L950.7,124.4 L950.0,125.4" stroke="#26aaba" stroke-width="2.4"/>
<path d="M950.0,125.4 L949.1,126.3 L948.1,127.3 L947.1,128.3 L946.1,129.4" stroke="#25a4ba" stroke-width="2.4"/>
<path d="M946.1,129.4 L945.1,130.5 L944.0,131.7 L942.9,132.9" stroke="#239eba" stroke-width="2.4"/>
<path d="M942.9,132.9 L941.7,134.1 L940.6,135.4 L939.6,136.6" stroke="#2199ba" stroke-width="2.4"/>
<path d="M939.6,136.6 L938.6,137.9 L937.7,139.2 L936.8,140.5 L935.9,141.8" stroke="#1e8fb8" stroke-width="2.4"/>
<path d="M935.9,141.8 L935.1,143.1 L934.4,144.4 L933.7,145.7" stroke="#1a82b7" stroke-width="2.4"/>
<path d="M933.7,145.7 L933.1,147.0 L932.6,148.3 L932.1,149.6 L931.6,150.9" stroke="#1677b5" stroke-width="2.4"/>
<path d="M931.6,150.9 L931.1,152.2 L930.6,153.6 L930.1,155.1" stroke="#136ab1" stroke-width="2.4"/>
<path d="M930.1,155.1 L929.6,156.6 L929.1,158.0 L928.8,159.2 L928.5,160.1" stroke="#0f59a6" stroke-width="2.4"/>
<path d="M944.2,81.7 L945.0,81.8 L946.0,81.9 L947.3,82.0 L948.6,82.2 L950.0,82.6" stroke="#32d996" stroke-width="1.6"/>
<path d="M950.0,82.6 L951.3,83.1 L952.6,83.9 L954.0,84.9" stroke="#35dca1" stroke-width="1.6"/>
<path d="M954.0,84.9 L955.4,86.0 L956.8,87.2 L958.1,88.5" stroke="#38deab" stroke-width="1.6"/>
<path d="M958.1,88.5 L959.2,89.6 L960.2,90.7 L961.1,91.8 L961.9,92.9" stroke="#3ce1b7" stroke-width="1.6"/>
<path d="M961.9,92.9 L962.7,94.0 L963.2,95.1 L963.7,96.1 L964.0,97.0" stroke="#3fe3c1" stroke-width="1.6"/>
<path d="M964.0,97.0 L964.2,98.0 L964.3,98.8 L964.2,99.7 L964.0,100.5 L963.7,101.3 L963.2,102.1" stroke="#3ee2c9" stroke-width="1.6"/>
<path d="M963.2,102.1 L962.6,103.0 L961.9,103.8 L961.0,104.5 L960.1,105.3 L959.2,105.9" stroke="#3ce0d1" stroke-width="1.6"/>
<path d="M959.2,105.9 L958.2,106.4 L957.0,106.8 L955.8,107.2 L954.6,107.6" stroke="#3aded9" stroke-width="1.6"/>
<path d="M954.6,107.6 L953.5,108.0 L952.6,108.5 L951.8,109.1 L951.1,109.9 L950.5,110.6" stroke="#38dce0" stroke-width="1.6"/>
<path d="M950.5,110.6 L950.0,111.4 L949.6,112.3 L949.4,113.1 L949.4,113.9 L949.7,114.8 L950.1,115.7" stroke="#35d9e3" stroke-width="1.6"/>
<path d="M950.1,115.7 L950.6,116.5 L951.0,117.4 L951.3,118.3 L951.5,119.2 L951.6,120.0 L951.7,120.9" stroke="#33d7e5" stroke-width="1.6"/>
<path d="M951.7,120.9 L951.8,121.7 L951.6,122.6 L951.3,123.5 L950.7,124.4 L950.0,125.4" stroke="#30d4e8" stroke-width="1.6"/>
<path d="M950.0,125.4 L949.1,126.3 L948.1,127.3 L947.1,128.3 L946.1,129.4" stroke="#2ecde8" stroke-width="1.6"/>
<path d="M946.1,129.4 L945.1,130.5 L944.0,131.7 L942.9,132.9" stroke="#2bc6e8" stroke-width="1.6"/>
<path d="M942.9,132.9 L941.7,134.1 L940.6,135.4 L939.6,136.6" stroke="#29bfe8" stroke-width="1.6"/>
<path d="M939.6,136.6 L938.6,137.9 L937.7,139.2 L936.8,140.5 L935.9,141.8" stroke="#25b3e7" stroke-width="1.6"/>
<path d="M935.9,141.8 L935.1,143.1 L934.4,144.4 L933.7,145.7" stroke="#20a3e4" stroke-width="1.6"/>
<path d="M933.7,145.7 L933.1,147.0 L932.6,148.3 L932.1,149.6 L931.6,150.9" stroke="#1c94e2" stroke-width="1.6"/>
<path d="M931.6,150.9 L931.1,152.2 L930.6,153.6 L930.1,155.1" stroke="#1784de" stroke-width="1.6"/>
<path d="M930.1,155.1 L929.6,156.6 L929.1,158.0 L928.8,159.2 L928.5,160.1" stroke="#136fd0" stroke-width="1.6"/>
<path d="M944.2,81.7 L945.0,81.8 L946.0,81.9 L947.3,82.0 L948.6,82.2 L950.0,82.6" stroke="#5be1ab" stroke-width="0.6"/>
<path d="M950.0,82.6 L951.3,83.1 L952.6,83.9 L954.0,84.9" stroke="#5ee3b4" stroke-width="0.6"/>
<path d="M954.0,84.9 L955.4,86.0 L956.8,87.2 L958.1,88.5" stroke="#60e5bc" stroke-width="0.6"/>
<path d="M958.1,88.5 L959.2,89.6 L960.2,90.7 L961.1,91.8 L961.9,92.9" stroke="#63e7c5" stroke-width="0.6"/>
<path d="M961.9,92.9 L962.7,94.0 L963.2,95.1 L963.7,96.1 L964.0,97.0" stroke="#66e9ce" stroke-width="0.6"/>
<path d="M964.0,97.0 L964.2,98.0 L964.3,98.8 L964.2,99.7 L964.0,100.5 L963.7,101.3 L963.2,102.1" stroke="#65e8d4" stroke-width="0.6"/>
<path d="M963.2,102.1 L962.6,103.0 L961.9,103.8 L961.0,104.5 L960.1,105.3 L959.2,105.9" stroke="#63e6db" stroke-width="0.6"/>
<path d="M959.2,105.9 L958.2,106.4 L957.0,106.8 L955.8,107.2 L954.6,107.6" stroke="#61e5e1" stroke-width="0.6"/>
<path d="M954.6,107.6 L953.5,108.0 L952.6,108.5 L951.8,109.1 L951.1,109.9 L950.5,110.6" stroke="#60e3e6" stroke-width="0.6"/>
<path d="M950.5,110.6 L950.0,111.4 L949.6,112.3 L949.4,113.1 L949.4,113.9 L949.7,114.8 L950.1,115.7" stroke="#5ee1e8" stroke-width="0.6"/>
<path d="M950.1,115.7 L950.6,116.5 L951.0,117.4 L951.3,118.3 L951.5,119.2 L951.6,120.0 L951.7,120.9" stroke="#5bdfeb" stroke-width="0.6"/>
<path d="M951.7,120.9 L951.8,121.7 L951.6,122.6 L951.3,123.5 L950.7,124.4 L950.0,125.4" stroke="#59dded" stroke-width="0.6"/>
<path d="M950.0,125.4 L949.1,126.3 L948.1,127.3 L947.1,128.3 L946.1,129.4" stroke="#58d7ed" stroke-width="0.6"/>
<path d="M946.1,129.4 L945.1,130.5 L944.0,131.7 L942.9,132.9" stroke="#56d1ed" stroke-width="0.6"/>
<path d="M942.9,132.9 L941.7,134.1 L940.6,135.4 L939.6,136.6" stroke="#54cced" stroke-width="0.6"/>
<path d="M939.6,136.6 L938.6,137.9 L937.7,139.2 L936.8,140.5 L935.9,141.8" stroke="#51c2eb" stroke-width="0.6"/>
<path d="M935.9,141.8 L935.1,143.1 L934.4,144.4 L933.7,145.7" stroke="#4db5ea" stroke-width="0.6"/>
<path d="M933.7,145.7 L933.1,147.0 L932.6,148.3 L932.1,149.6 L931.6,150.9" stroke="#49aae8" stroke-width="0.6"/>
<path d="M931.6,150.9 L931.1,152.2 L930.6,153.6 L930.1,155.1" stroke="#469de4" stroke-width="0.6"/>
<path d="M930.1,155.1 L929.6,156.6 L929.1,158.0 L928.8,159.2 L928.5,160.1" stroke="#428cd9" stroke-width="0.6"/>
</g>
<g transform="translate(868,70) scale(0.10989)"><polygon points="126,392 170,398 230,420 270,462 284,520 272,562 240,592 232,540 214,482 180,440 140,420" fill="#b87010"/><polygon points="65,545 72,590 130,600 200,590 240,560 265,520 280,490 282,545 250,600 190,650 120,682 60,680 28,640 40,590" fill="url(#bo)"/><polygon points="318,252 368,230 410,262 442,322 462,398 420,382 382,322 342,282" fill="#b0cc00"/><polygon points="125,390 200,330 250,305 300,310 360,340 420,370 458,402 440,432 370,482 330,470 280,440 230,420 170,405" fill="url(#by)"/><polygon points="492,140 540,100 582,150 620,220 642,264 600,242 560,190 520,152" fill="#12902a"/><polygon points="320,250 380,210 440,180 500,175 560,200 620,240 642,270 600,300 550,332 500,300 450,280 400,262" fill="url(#bg)"/><polygon points="500,130 560,70 620,35 680,40 720,70 700,100 670,145 640,130 600,110 560,110" fill="url(#bt)"/></g></g></defs>
<use href="#coil" transform="translate(100,75) scale(0.1471)"/>
<use href="#coil" transform="translate(325,75) scale(0.1471)"/>
<g transform="translate(560,80) scale(0.12634)" fill="none" stroke-linecap="round" stroke-linejoin="round">
<path d="M940.0,295.0 L941.5,298.5 L943.5,303.1 L945.9,308.8 L948.7,315.2 L951.7,322.3 L955.0,330.0 L958.6,338.3" stroke="#0ea85c" stroke-width="24.0"/>
<path d="M958.6,338.3 L962.8,347.4 L967.2,357.2 L971.7,367.6 L976.0,378.6 L980.0,390.0" stroke="#12a767" stroke-width="24.0"/>
<path d="M980.0,390.0 L983.9,402.1 L988.0,414.8 L991.9,428.1" stroke="#15a670" stroke-width="24.0"/>
<path d="M991.9,428.1 L995.4,441.9 L998.2,455.9 L1000.0,470.0" stroke="#18a678" stroke-width="24.0"/>
<path d="M1000.0,470.0 L1000.8,484.7 L1000.9,500.0 L1000.3,515.6" stroke="#19a57f" stroke-width="24.0"/>
<path d="M1000.3,515.6 L999.1,531.1 L997.3,546.0 L995.0,560.0" stroke="#19a484" stroke-width="24.0"/>
<path d="M995.0,560.0 L992.3,572.9 L989.1,585.2 L985.3,596.9 L980.9,608.1" stroke="#19a489" stroke-width="24.0"/>
<path d="M980.9,608.1 L975.8,619.1 L970.0,630.0 L963.1,641.0 L955.2,652.1" stroke="#19a38e" stroke-width="24.0"/>
<path d="M955.2,652.1 L946.6,663.0 L937.6,673.2 L928.6,682.3" stroke="#19a393" stroke-width="24.0"/>
<path d="M928.6,682.3 L920.0,690.0 L911.9,696.3 L904.1,701.6 L896.2,705.8" stroke="#19a297" stroke-width="24.0"/>
<path d="M896.2,705.8 L888.1,709.0 L879.5,711.0 L870.0,712.0 L859.8,711.6 L849.3,709.7" stroke="#1ca29b" stroke-width="24.0"/>
<path d="M849.3,709.7 L838.1,706.8 L826.3,703.1 L813.6,699.0 L800.0,695.0" stroke="#1ea2a0" stroke-width="24.0"/>
<path d="M800.0,695.0 L785.1,690.5 L768.9,685.0 L751.9,679.2" stroke="#20a1a4" stroke-width="24.0"/>
<path d="M751.9,679.2 L734.4,673.6 L717.0,668.7" stroke="#21a0a6" stroke-width="24.0"/>
<path d="M717.0,668.7 L700.0,665.0 L683.6,662.7 L667.4,661.4" stroke="#239fa9" stroke-width="24.0"/>
<path d="M667.4,661.4 L651.2,660.9 L634.8,660.7 L617.8,660.5" stroke="#249dac" stroke-width="24.0"/>
<path d="M617.8,660.5 L600.0,660.0 L580.9,659.5" stroke="#259caf" stroke-width="24.0"/>
<path d="M580.9,659.5 L560.7,659.2 L540.0,659.0" stroke="#259ab0" stroke-width="24.0"/>
<path d="M540.0,659.0 L519.3,658.6 L499.1,657.6 L480.0,656.0" stroke="#2598b1" stroke-width="24.0"/>
<path d="M480.0,656.0 L461.9,653.6 L444.4,650.8" stroke="#2596b2" stroke-width="24.0"/>
<path d="M444.4,650.8 L427.5,647.4 L411.1,643.7 L395.3,639.5" stroke="#2595b2" stroke-width="24.0"/>
<path d="M395.3,639.5 L380.0,635.0 L365.5,629.9 L351.9,624.1" stroke="#2593b3" stroke-width="24.0"/>
<path d="M351.9,624.1 L338.8,617.9 L325.9,611.7 L313.1,605.6" stroke="#2591b4" stroke-width="24.0"/>
<path d="M313.1,605.6 L300.0,600.0 L286.6,594.6 L273.0,589.1" stroke="#258eb5" stroke-width="24.0"/>
<path d="M273.0,589.1 L259.4,583.8 L245.9,579.0 L232.8,575.0" stroke="#2185b3" stroke-width="24.0"/>
<path d="M232.8,575.0 L220.0,572.0 L207.6,570.0 L195.4,568.7 L183.4,568.2" stroke="#1e7cb1" stroke-width="24.0"/>
<path d="M183.4,568.2 L171.9,568.5 L160.7,569.8 L150.0,572.0 L139.9,575.3" stroke="#1a73af" stroke-width="24.0"/>
<path d="M139.9,575.3 L130.4,579.7 L121.2,585.1 L112.4,591.1 L103.7,597.8" stroke="#1666aa" stroke-width="24.0"/>
<path d="M103.7,597.8 L95.0,605.0 L85.8,613.5 L76.1,623.7 L66.6,634.6" stroke="#1257a4" stroke-width="24.0"/>
<path d="M66.6,634.6 L57.8,644.9 L50.4,653.8 L45.0,660.0" stroke="#0e4a9e" stroke-width="24.0"/>
<path d="M940.0,295.0 L941.5,298.5 L943.5,303.1 L945.9,308.8 L948.7,315.2 L951.7,322.3 L955.0,330.0 L958.6,338.3" stroke="#12d776" stroke-width="17.0"/>
<path d="M958.6,338.3 L962.8,347.4 L967.2,357.2 L971.7,367.6 L976.0,378.6 L980.0,390.0" stroke="#16d683" stroke-width="17.0"/>
<path d="M980.0,390.0 L983.9,402.1 L988.0,414.8 L991.9,428.1" stroke="#1bd590" stroke-width="17.0"/>
<path d="M991.9,428.1 L995.4,441.9 L998.2,455.9 L1000.0,470.0" stroke="#1ed49a" stroke-width="17.0"/>
<path d="M1000.0,470.0 L1000.8,484.7 L1000.9,500.0 L1000.3,515.6" stroke="#20d4a3" stroke-width="17.0"/>
<path d="M1000.3,515.6 L999.1,531.1 L997.3,546.0 L995.0,560.0" stroke="#20d3a9" stroke-width="17.0"/>
<path d="M995.0,560.0 L992.3,572.9 L989.1,585.2 L985.3,596.9 L980.9,608.1" stroke="#20d2af" stroke-width="17.0"/>
<path d="M980.9,608.1 L975.8,619.1 L970.0,630.0 L963.1,641.0 L955.2,652.1" stroke="#20d1b6" stroke-width="17.0"/>
<path d="M955.2,652.1 L946.6,663.0 L937.6,673.2 L928.6,682.3" stroke="#20d1bc" stroke-width="17.0"/>
<path d="M928.6,682.3 L920.0,690.0 L911.9,696.3 L904.1,701.6 L896.2,705.8" stroke="#21d0c1" stroke-width="17.0"/>
<path d="M896.2,705.8 L888.1,709.0 L879.5,711.0 L870.0,712.0 L859.8,711.6 L849.3,709.7" stroke="#23d0c7" stroke-width="17.0"/>
<path d="M849.3,709.7 L838.1,706.8 L826.3,703.1 L813.6,699.0 L800.0,695.0" stroke="#26d0cd" stroke-width="17.0"/>
<path d="M800.0,695.0 L785.1,690.5 L768.9,685.0 L751.9,679.2" stroke="#29cfd2" stroke-width="17.0"/>
<path d="M751.9,679.2 L734.4,673.6 L717.0,668.7" stroke="#2bcdd5" stroke-width="17.0"/>
<path d="M717.0,668.7 L700.0,665.0 L683.6,662.7 L667.4,661.4" stroke="#2cccd9" stroke-width="17.0"/>
<path d="M667.4,661.4 L651.2,660.9 L634.8,660.7 L617.8,660.5" stroke="#2ecadd" stroke-width="17.0"/>
<path d="M617.8,660.5 L600.0,660.0 L580.9,659.5" stroke="#30c8e0" stroke-width="17.0"/>
<path d="M580.9,659.5 L560.7,659.2 L540.0,659.0" stroke="#30c6e1" stroke-width="17.0"/>
<path d="M540.0,659.0 L519.3,658.6 L499.1,657.6 L480.0,656.0" stroke="#30c3e2" stroke-width="17.0"/>
<path d="M480.0,656.0 L461.9,653.6 L444.4,650.8" stroke="#30c1e4" stroke-width="17.0"/>
<path d="M444.4,650.8 L427.5,647.4 L411.1,643.7 L395.3,639.5" stroke="#30bfe5" stroke-width="17.0"/>
<path d="M395.3,639.5 L380.0,635.0 L365.5,629.9 L351.9,624.1" stroke="#30bce6" stroke-width="17.0"/>
<path d="M351.9,624.1 L338.8,617.9 L325.9,611.7 L313.1,605.6" stroke="#30bae7" stroke-width="17.0"/>
<path d="M313.1,605.6 L300.0,600.0 L286.6,594.6 L273.0,589.1" stroke="#2fb6e8" stroke-width="17.0"/>
<path d="M273.0,589.1 L259.4,583.8 L245.9,579.0 L232.8,575.0" stroke="#2babe5" stroke-width="17.0"/>
<path d="M232.8,575.0 L220.0,572.0 L207.6,570.0 L195.4,568.7 L183.4,568.2" stroke="#269fe3" stroke-width="17.0"/>
<path d="M183.4,568.2 L171.9,568.5 L160.7,569.8 L150.0,572.0 L139.9,575.3" stroke="#2193e1" stroke-width="17.0"/>
<path d="M139.9,575.3 L130.4,579.7 L121.2,585.1 L112.4,591.1 L103.7,597.8" stroke="#1c83da" stroke-width="17.0"/>
<path d="M103.7,597.8 L95.0,605.0 L85.8,613.5 L76.1,623.7 L66.6,634.6" stroke="#1770d2" stroke-width="17.0"/>
<path d="M66.6,634.6 L57.8,644.9 L50.4,653.8 L45.0,660.0" stroke="#125fcb" stroke-width="17.0"/>
<path d="M940.0,295.0 L941.5,298.5 L943.5,303.1 L945.9,308.8 L948.7,315.2 L951.7,322.3 L955.0,330.0 L958.6,338.3" stroke="#3ddf8f" stroke-width="6.0"/>
<path d="M958.6,338.3 L962.8,347.4 L967.2,357.2 L971.7,367.6 L976.0,378.6 L980.0,390.0" stroke="#40de9a" stroke-width="6.0"/>
<path d="M980.0,390.0 L983.9,402.1 L988.0,414.8 L991.9,428.1" stroke="#44dda4" stroke-width="6.0"/>
<path d="M991.9,428.1 L995.4,441.9 L998.2,455.9 L1000.0,470.0" stroke="#47dcad" stroke-width="6.0"/>
<path d="M1000.0,470.0 L1000.8,484.7 L1000.9,500.0 L1000.3,515.6" stroke="#48dbb4" stroke-width="6.0"/>
<path d="M1000.3,515.6 L999.1,531.1 L997.3,546.0 L995.0,560.0" stroke="#48dbb8" stroke-width="6.0"/>
<path d="M995.0,560.0 L992.3,572.9 L989.1,585.2 L985.3,596.9 L980.9,608.1" stroke="#48dabe" stroke-width="6.0"/>
<path d="M980.9,608.1 L975.8,619.1 L970.0,630.0 L963.1,641.0 L955.2,652.1" stroke="#48dac3" stroke-width="6.0"/>
<path d="M955.2,652.1 L946.6,663.0 L937.6,673.2 L928.6,682.3" stroke="#48d9c8" stroke-width="6.0"/>
<path d="M928.6,682.3 L920.0,690.0 L911.9,696.3 L904.1,701.6 L896.2,705.8" stroke="#49d8cc" stroke-width="6.0"/>
<path d="M896.2,705.8 L888.1,709.0 L879.5,711.0 L870.0,712.0 L859.8,711.6 L849.3,709.7" stroke="#4bd8d1" stroke-width="6.0"/>
<path d="M849.3,709.7 L838.1,706.8 L826.3,703.1 L813.6,699.0 L800.0,695.0" stroke="#4dd8d6" stroke-width="6.0"/>
<path d="M800.0,695.0 L785.1,690.5 L768.9,685.0 L751.9,679.2" stroke="#50d8da" stroke-width="6.0"/>
<path d="M751.9,679.2 L734.4,673.6 L717.0,668.7" stroke="#51d6dd" stroke-width="6.0"/>
<path d="M717.0,668.7 L700.0,665.0 L683.6,662.7 L667.4,661.4" stroke="#52d5e0" stroke-width="6.0"/>
<path d="M667.4,661.4 L651.2,660.9 L634.8,660.7 L617.8,660.5" stroke="#54d3e3" stroke-width="6.0"/>
<path d="M617.8,660.5 L600.0,660.0 L580.9,659.5" stroke="#55d2e6" stroke-width="6.0"/>
<path d="M580.9,659.5 L560.7,659.2 L540.0,659.0" stroke="#55d0e6" stroke-width="6.0"/>
<path d="M540.0,659.0 L519.3,658.6 L499.1,657.6 L480.0,656.0" stroke="#55cee7" stroke-width="6.0"/>
<path d="M480.0,656.0 L461.9,653.6 L444.4,650.8" stroke="#55cce9" stroke-width="6.0"/>
<path d="M444.4,650.8 L427.5,647.4 L411.1,643.7 L395.3,639.5" stroke="#55cae9" stroke-width="6.0"/>
<path d="M395.3,639.5 L380.0,635.0 L365.5,629.9 L351.9,624.1" stroke="#55c8ea" stroke-width="6.0"/>
<path d="M351.9,624.1 L338.8,617.9 L325.9,611.7 L313.1,605.6" stroke="#55c6eb" stroke-width="6.0"/>
<path d="M313.1,605.6 L300.0,600.0 L286.6,594.6 L273.0,589.1" stroke="#55c3ec" stroke-width="6.0"/>
<path d="M273.0,589.1 L259.4,583.8 L245.9,579.0 L232.8,575.0" stroke="#51baea" stroke-width="6.0"/>
<path d="M232.8,575.0 L220.0,572.0 L207.6,570.0 L195.4,568.7 L183.4,568.2" stroke="#4db0e8" stroke-width="6.0"/>
<path d="M183.4,568.2 L171.9,568.5 L160.7,569.8 L150.0,572.0 L139.9,575.3" stroke="#49a6e6" stroke-width="6.0"/>
<path d="M139.9,575.3 L130.4,579.7 L121.2,585.1 L112.4,591.1 L103.7,597.8" stroke="#4599e1" stroke-width="6.0"/>
<path d="M103.7,597.8 L95.0,605.0 L85.8,613.5 L76.1,623.7 L66.6,634.6" stroke="#418ada" stroke-width="6.0"/>
<path d="M66.6,634.6 L57.8,644.9 L50.4,653.8 L45.0,660.0" stroke="#3d7cd4" stroke-width="6.0"/>
</g>
<g transform="translate(595,85) scale(0.06868)"><path d="M60,226 Q110,290 180,350 Q260,430 340,462 L420,492 Q380,430 345,440 Q330,360 300,320 Q285,285 270,264 Q160,250 60,226 Z" fill="url(#hy0)"/><path d="M58,224 Q150,205 240,236 Q268,250 272,266 Q200,280 100,252 Z" fill="#f2e000"/><path d="M322,352 Q420,270 480,180 Q540,95 580,45 Q556,200 556,440 Q520,488 440,494 Q380,494 345,466 Z" fill="url(#hy1)"/><path d="M830,480 Q950,370 1080,258 L1100,470 Q1020,560 950,630 Q900,680 870,690 Z" fill="url(#hg2)"/><path d="M580,45 Q700,70 825,140 L830,480 Q850,600 870,692 Q700,660 620,585 Q570,520 562,440 Q552,300 580,45 Z" fill="url(#hg1)"/><path d="M600,470 Q640,590 760,650 Q830,680 868,690 Q840,600 832,480 Q760,520 600,470 Z" fill="#2a9a00" opacity="0.35"/><polygon points="1080,258 1200,262 1362,330 1370,470 1100,470" fill="url(#hbox)"/><polygon points="1080,258 1105,285 1105,470 1062,470 1050,300" fill="#00902c"/><polygon points="1105,285 1362,332 1364,345 1105,300" fill="#30f080" opacity="0.6"/></g>
<use href="#ahelix"/>
<use href="#ahelix" transform="translate(238,-1)"/>
<rect x="1367.4" y="57.7" width="77.8" height="116.2" fill="#4b5159"/>
<rect x="1438" y="57.7" width="7.2" height="116.2" fill="#42474e"/>
<path d="M1372,57.7 L1372,160 Q1373,171 1382,172 L1425,172.5 Q1433,172 1433.5,162 L1436.5,57.7 Z" fill="url(#cuvIn)"/>
<rect x="1372" y="57.7" width="8" height="108" fill="#555c64" opacity="0.55"/>
<rect x="1427" y="57.7" width="8" height="108" fill="#5a6169" opacity="0.4"/>
<path d="M1379.3,57.7 L1379.3,66 Q1380,74.8 1390,75 L1418,75 Q1429.5,74.5 1429.5,66 L1429.5,57.7 Z" fill="#42474f" stroke="#b8c2c8" stroke-width="1"/>
<path d="M1436.8,57.7 L1433.8,162 Q1433,172.5 1424,173 L1382,172.5 Q1372,171 1370.5,160" fill="none" stroke="#dce4e8" stroke-width="1.6"/>
<path d="M1370.3,60 L1370.3,158 M1373.5,60 L1373.5,160" stroke="#646b73" stroke-width="0.8" fill="none"/>
<g fill="#c0cedc" opacity="0.55"><circle cx="1392.1" cy="81.4" r="0.71"/><circle cx="1377.3" cy="112.1" r="0.55"/><circle cx="1376.4" cy="109.3" r="0.37"/><circle cx="1398.6" cy="77.7" r="0.40"/><circle cx="1398.0" cy="145.2" r="0.42"/><circle cx="1386.2" cy="121.7" r="0.87"/><circle cx="1407.0" cy="99.0" r="0.89"/><circle cx="1375.7" cy="149.2" r="0.51"/><circle cx="1381.5" cy="79.7" r="0.52"/><circle cx="1421.2" cy="83.1" r="0.67"/><circle cx="1410.7" cy="96.9" r="0.65"/><circle cx="1376.7" cy="77.3" r="0.46"/><circle cx="1413.1" cy="101.7" r="0.52"/><circle cx="1407.5" cy="104.1" r="0.51"/><circle cx="1419.9" cy="129.8" r="0.48"/><circle cx="1406.9" cy="111.0" r="0.83"/><circle cx="1416.0" cy="90.2" r="0.89"/><circle cx="1380.0" cy="100.9" r="0.77"/><circle cx="1382.0" cy="107.5" r="0.37"/><circle cx="1412.4" cy="137.5" r="0.67"/><circle cx="1424.7" cy="92.2" r="0.73"/><circle cx="1408.1" cy="116.6" r="0.60"/><circle cx="1422.6" cy="160.5" r="0.61"/><circle cx="1412.2" cy="77.4" r="0.74"/><circle cx="1411.2" cy="167.0" r="0.80"/><circle cx="1389.8" cy="98.0" r="0.72"/><circle cx="1374.3" cy="104.9" r="0.44"/><circle cx="1379.9" cy="77.3" r="0.77"/><circle cx="1380.6" cy="87.3" r="0.57"/><circle cx="1424.4" cy="78.1" r="0.60"/><circle cx="1405.4" cy="152.4" r="0.80"/><circle cx="1424.0" cy="89.5" r="0.58"/><circle cx="1394.2" cy="152.5" r="0.88"/><circle cx="1381.9" cy="82.8" r="0.48"/><circle cx="1386.8" cy="107.1" r="0.67"/><circle cx="1388.5" cy="76.0" r="0.58"/><circle cx="1394.8" cy="115.2" r="0.87"/><circle cx="1413.7" cy="110.1" r="0.69"/><circle cx="1412.9" cy="77.2" r="0.84"/><circle cx="1419.0" cy="151.2" r="0.79"/><circle cx="1396.2" cy="99.2" r="0.41"/><circle cx="1410.4" cy="77.4" r="0.39"/><circle cx="1385.3" cy="82.0" r="0.54"/><circle cx="1376.1" cy="76.0" r="0.43"/><circle cx="1379.0" cy="96.2" r="0.36"/><circle cx="1424.6" cy="120.3" r="0.43"/><circle cx="1387.9" cy="94.8" r="0.55"/><circle cx="1380.2" cy="148.0" r="0.90"/><circle cx="1400.5" cy="107.0" r="0.40"/><circle cx="1379.0" cy="94.5" r="0.50"/><circle cx="1421.9" cy="82.0" r="0.36"/><circle cx="1429.1" cy="111.3" r="0.43"/><circle cx="1405.0" cy="76.4" r="0.64"/><circle cx="1430.7" cy="149.8" r="0.73"/><circle cx="1388.4" cy="96.4" r="0.44"/><circle cx="1418.5" cy="111.8" r="0.78"/><circle cx="1392.5" cy="85.7" r="0.80"/><circle cx="1431.1" cy="148.4" r="0.79"/><circle cx="1421.3" cy="134.5" r="0.47"/><circle cx="1403.5" cy="95.5" r="0.37"/><circle cx="1374.6" cy="89.6" r="0.49"/><circle cx="1413.9" cy="162.1" r="0.60"/><circle cx="1428.3" cy="166.4" r="0.88"/><circle cx="1394.5" cy="85.5" r="0.47"/><circle cx="1384.6" cy="84.5" r="0.69"/><circle cx="1426.1" cy="146.9" r="0.61"/><circle cx="1411.5" cy="141.8" r="0.40"/><circle cx="1412.0" cy="155.8" r="0.78"/><circle cx="1417.3" cy="106.4" r="0.45"/><circle cx="1419.6" cy="93.6" r="0.79"/><circle cx="1430.3" cy="98.9" r="0.57"/><circle cx="1428.9" cy="132.8" r="0.44"/><circle cx="1380.5" cy="81.4" r="0.85"/><circle cx="1420.6" cy="81.1" r="0.80"/><circle cx="1430.8" cy="125.0" r="0.54"/><circle cx="1405.4" cy="80.4" r="0.36"/><circle cx="1430.3" cy="124.2" r="0.64"/><circle cx="1428.1" cy="102.3" r="0.83"/><circle cx="1421.7" cy="84.9" r="0.49"/><circle cx="1390.3" cy="86.9" r="0.67"/><circle cx="1388.3" cy="101.0" r="0.42"/><circle cx="1426.7" cy="95.4" r="0.60"/><circle cx="1407.4" cy="155.1" r="0.58"/><circle cx="1427.1" cy="108.7" r="0.64"/><circle cx="1403.9" cy="76.2" r="0.59"/><circle cx="1383.8" cy="76.0" r="0.79"/><circle cx="1383.2" cy="106.0" r="0.75"/><circle cx="1405.8" cy="93.1" r="0.64"/><circle cx="1405.8" cy="139.9" r="0.41"/><circle cx="1406.1" cy="87.4" r="0.50"/><circle cx="1418.6" cy="109.3" r="0.66"/><circle cx="1417.8" cy="156.2" r="0.59"/><circle cx="1409.1" cy="109.1" r="0.63"/><circle cx="1413.9" cy="104.0" r="0.64"/><circle cx="1401.2" cy="160.0" r="0.73"/><circle cx="1424.7" cy="160.1" r="0.49"/><circle cx="1406.0" cy="160.3" r="0.81"/><circle cx="1381.1" cy="79.9" r="0.59"/><circle cx="1377.3" cy="86.9" r="0.39"/><circle cx="1412.5" cy="139.9" r="0.84"/><circle cx="1382.1" cy="131.8" r="0.71"/><circle cx="1381.4" cy="152.3" r="0.88"/><circle cx="1386.0" cy="161.5" r="0.57"/><circle cx="1401.7" cy="166.6" r="0.81"/><circle cx="1382.5" cy="102.1" r="0.63"/><circle cx="1393.0" cy="84.0" r="0.53"/><circle cx="1415.6" cy="76.3" r="0.65"/><circle cx="1399.0" cy="76.2" r="0.53"/><circle cx="1409.8" cy="109.7" r="0.39"/><circle cx="1431.1" cy="140.4" r="0.88"/><circle cx="1379.2" cy="88.6" r="0.37"/><circle cx="1419.0" cy="88.9" r="0.42"/><circle cx="1397.9" cy="156.0" r="0.80"/><circle cx="1388.3" cy="81.3" r="0.86"/><circle cx="1406.7" cy="129.9" r="0.40"/><circle cx="1376.4" cy="128.5" r="0.58"/><circle cx="1377.3" cy="159.6" r="0.70"/><circle cx="1420.3" cy="78.2" r="0.82"/><circle cx="1376.9" cy="149.7" r="0.60"/><circle cx="1393.0" cy="113.8" r="0.86"/><circle cx="1388.8" cy="80.3" r="0.64"/><circle cx="1387.1" cy="79.3" r="0.44"/><circle cx="1376.0" cy="84.3" r="0.52"/><circle cx="1391.0" cy="136.9" r="0.51"/><circle cx="1402.5" cy="82.9" r="0.54"/><circle cx="1374.1" cy="87.5" r="0.36"/><circle cx="1416.3" cy="113.6" r="0.45"/><circle cx="1401.0" cy="159.1" r="0.41"/><circle cx="1421.3" cy="102.1" r="0.62"/><circle cx="1422.2" cy="98.7" r="0.63"/><circle cx="1413.6" cy="165.6" r="0.54"/><circle cx="1422.1" cy="130.7" r="0.70"/><circle cx="1396.9" cy="94.9" r="0.38"/><circle cx="1380.7" cy="77.7" r="0.76"/><circle cx="1388.1" cy="82.1" r="0.40"/><circle cx="1422.6" cy="150.7" r="0.72"/><circle cx="1389.6" cy="87.0" r="0.51"/><circle cx="1400.1" cy="81.8" r="0.60"/><circle cx="1388.5" cy="162.8" r="0.88"/><circle cx="1405.3" cy="87.1" r="0.88"/><circle cx="1391.3" cy="95.6" r="0.35"/><circle cx="1395.5" cy="106.1" r="0.63"/><circle cx="1384.9" cy="109.0" r="0.35"/><circle cx="1388.6" cy="78.5" r="0.57"/><circle cx="1375.5" cy="76.3" r="0.52"/><circle cx="1386.7" cy="117.2" r="0.64"/><circle cx="1417.3" cy="125.1" r="0.74"/><circle cx="1424.9" cy="98.4" r="0.53"/><circle cx="1431.1" cy="81.3" r="0.75"/><circle cx="1410.9" cy="76.8" r="0.81"/><circle cx="1425.6" cy="121.7" r="0.75"/><circle cx="1420.9" cy="80.8" r="0.64"/><circle cx="1402.8" cy="146.2" r="0.79"/><circle cx="1421.8" cy="117.1" r="0.84"/><circle cx="1413.3" cy="129.1" r="0.48"/><circle cx="1374.8" cy="80.5" r="0.55"/><circle cx="1379.2" cy="146.3" r="0.66"/><circle cx="1410.0" cy="121.6" r="0.72"/><circle cx="1401.9" cy="76.0" r="0.79"/><circle cx="1417.1" cy="108.8" r="0.64"/></g>
<g fill="#b8d0ec" opacity="0.7"><circle cx="1411.6" cy="77.6" r="1.02"/><circle cx="1392.1" cy="77.8" r="0.69"/><circle cx="1415.0" cy="80.9" r="1.02"/><circle cx="1426.8" cy="87.9" r="0.77"/><circle cx="1403.0" cy="92.4" r="1.04"/><circle cx="1409.6" cy="91.4" r="0.55"/><circle cx="1387.1" cy="82.1" r="1.02"/><circle cx="1394.6" cy="89.6" r="0.51"/><circle cx="1382.9" cy="82.5" r="0.97"/><circle cx="1413.2" cy="92.2" r="0.70"/><circle cx="1404.8" cy="87.2" r="0.83"/><circle cx="1385.7" cy="97.4" r="0.64"/><circle cx="1427.0" cy="98.5" r="0.51"/><circle cx="1402.0" cy="95.7" r="1.18"/><circle cx="1401.6" cy="82.4" r="0.65"/><circle cx="1425.4" cy="81.1" r="0.91"/><circle cx="1386.8" cy="88.6" r="1.17"/><circle cx="1386.4" cy="95.7" r="0.86"/><circle cx="1422.6" cy="92.9" r="0.66"/><circle cx="1423.1" cy="87.7" r="0.52"/><circle cx="1380.2" cy="87.8" r="0.82"/><circle cx="1394.5" cy="79.4" r="0.74"/><circle cx="1395.2" cy="96.2" r="0.50"/><circle cx="1416.0" cy="96.1" r="0.58"/><circle cx="1424.5" cy="93.1" r="1.13"/><circle cx="1393.9" cy="84.9" r="0.78"/><circle cx="1427.9" cy="90.1" r="0.75"/><circle cx="1400.5" cy="82.6" r="0.53"/><circle cx="1384.9" cy="96.0" r="0.70"/><circle cx="1424.9" cy="82.0" r="0.69"/><circle cx="1404.5" cy="80.6" r="0.76"/><circle cx="1425.9" cy="97.2" r="1.07"/><circle cx="1410.3" cy="97.9" r="1.16"/><circle cx="1406.4" cy="93.3" r="0.53"/><circle cx="1415.2" cy="86.8" r="1.03"/><circle cx="1410.9" cy="82.9" r="0.53"/><circle cx="1424.5" cy="79.1" r="0.83"/><circle cx="1396.5" cy="83.1" r="1.02"/><circle cx="1426.9" cy="82.2" r="0.96"/><circle cx="1394.4" cy="89.4" r="0.78"/></g>
</svg>
</body></html>
